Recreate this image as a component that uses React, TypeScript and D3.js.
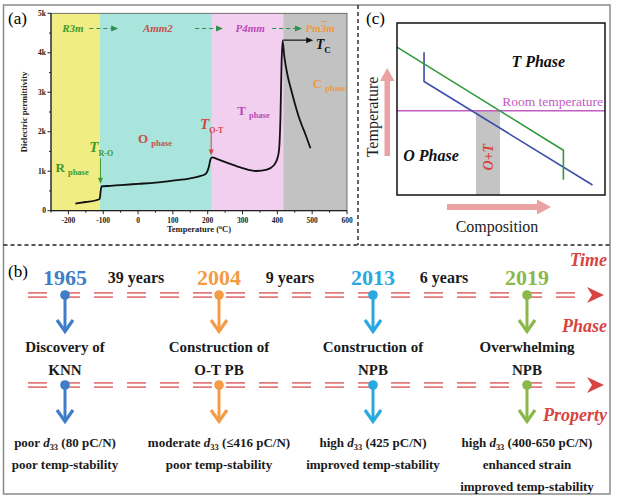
import React from "react";
import * as d3 from "d3";

// ---------- Panel (a) data ----------
const tempC = [-180, -150, -120, -110, -108, -105, -80, -50, 0, 50, 100, 150, 180, 195, 203, 208, 212, 230, 260, 300, 340, 370, 390, 400, 405, 409, 412, 415, 420, 430, 440, 450, 460, 470, 480, 495];
const permittivity = [180, 220, 265, 300, 450, 615, 630, 650, 680, 710, 760, 820, 880, 940, 1100, 1300, 1350, 1300, 1200, 1080, 1005, 1040, 1150, 1320, 1550, 2400, 3700, 4300, 3900, 3400, 3050, 2720, 2420, 2170, 1950, 1580];
const phaseBounds = [-250, -110, 212, 417, 600];
const phaseFills = ["#f1ed85", "#aae5dd", "#f2cfee", "#c2c2c2"];
const xTicks = [-200, -100, 0, 100, 200, 300, 400, 500, 600];
const xMinor = [-250, -150, -50, 50, 150, 250, 350, 450, 550];
const yTicks = [0, 1000, 2000, 3000, 4000, 5000];
const yTickLabels = ["0", "1k", "2k", "3k", "4k", "5k"];
const yMinor = [500, 1500, 2500, 3500, 4500];
const spaceGroups = ["R3m", "Amm2", "P4mm", "Pm3m"];
const spaceGroupTemps = [-187, 57, 322, 523];
const spaceGroupColors = ["#3d9a2c", "#c8504e", "#b94bb8", "#f09a3e"];
const transitionArrows = [[-140, -57], [164, 244], [385, 471]];

// ---------- Panel (c) data (normalised composition / temperature) ----------
const greenLine: [number, number][] = [[0, 0.86], [0.8, 0.26], [0.8, 0.088]];
const blueLine: [number, number][] = [[0.13, 0.83], [0.13, 0.66], [0.94, 0.058]];
const roomTemp = 0.49;
const otRange = [0.38, 0.495];

// ---------- Panel (b) data ----------
const years = ["1965", "2004", "2013", "2019"];
const yearGaps = ["39 years", "9 years", "6 years"];
const eventColors = ["#3f7dc8", "#f39c45", "#29a9df", "#8cb84b"];
const phaseText = [["Discovery of", "KNN"], ["Construction of", "O-T PB"], ["Construction of", "NPB"], ["Overwhelming", "NPB"]];
const propertyText = [
  ["poor d33 (80 pC/N)", "poor temp-stability"],
  ["moderate d33 (≤416 pC/N)", "poor temp-stability"],
  ["high d33 (425 pC/N)", "improved temp-stability"],
  ["high d33 (400-650 pC/N)", "enhanced strain", "improved temp-stability"],
];
const rowLabels = ["Time", "Phase", "Property"];

const SERIF = "Liberation Serif, Times New Roman, serif";
const RED = "#d8443f";
const TL = "#e07b7b";

function D33Text({ s, x, y, size, color }: { s: string; x: number; y: number; size: number; color: string }) {
  const idx = s.indexOf("d33");
  if (idx < 0) {
    return (
      <text x={x} y={y} textAnchor="middle" fontFamily={SERIF} fontWeight="bold" fontSize={size} fill={color}>{s}</text>
    );
  }
  return (
    <text x={x} y={y} textAnchor="middle" fontFamily={SERIF} fontWeight="bold" fontSize={size} fill={color}>
      {s.slice(0, idx)}
      <tspan fontStyle="italic">d</tspan>
      <tspan fontSize={size * 0.65} dy={3}>33</tspan>
      <tspan dy={-3}>{s.slice(idx + 3)}</tspan>
    </text>
  );
}

function DownArrow({ x, y0, tip, color }: { x: number; y0: number; tip: number; color: string }) {
  return (
    <g>
      <line x1={x} x2={x} y1={y0} y2={tip - 1.5} stroke={color} strokeWidth={3} />
      <path d={`M${x - 8},${tip - 13} L${x},${tip - 1.5} L${x + 8},${tip - 13}`} fill="none" stroke={color} strokeWidth={3.2} strokeLinejoin="miter" />
      <circle cx={x} cy={y0} r={4.8} fill={color} />
    </g>
  );
}

function Timeline({ y, x0, x1 }: { y: number; x0: number; x1: number }) {
  return (
    <g>
      <line x1={x0} x2={x1} y1={y - 2.2} y2={y - 2.2} stroke={TL} strokeWidth={1.8} strokeDasharray="19 14" />
      <line x1={x0} x2={x1} y1={y + 2.2} y2={y + 2.2} stroke={TL} strokeWidth={1.8} strokeDasharray="19 14" />
      <path d={`M${x1 + 2},${y - 8} L${x1 + 19},${y} L${x1 + 2},${y + 8} L${x1 + 7},${y} Z`} fill={RED} />
    </g>
  );
}

function PhaseLabel({ x, y, main, color }: { x: number; y: number; main: string; color: string }) {
  return (
    <text x={x} y={y} fontFamily={SERIF} fontWeight="bold" fontSize={13} fill={color}>
      {main}
      <tspan fontSize={8.5} dx={3} dy={3}>phase</tspan>
    </text>
  );
}

export default function App() {
  // Panel (a)
  const xa = d3.scaleLinear().domain([-250, 600]).range([51, 347]);
  const ya = d3.scaleLinear().domain([0, 5000]).range([210.7, 13.3]);
  const curve = d3
    .line<number>()
    .x((_, i) => xa(tempC[i]))
    .y((d) => ya(d))
    .curve(d3.curveMonotoneX)(permittivity) as string;

  // Panel (c)
  const xc = d3.scaleLinear().domain([0, 1]).range([397, 605]);
  const yc = d3.scaleLinear().domain([0, 1]).range([195, 23]);
  const lineC = d3.line<[number, number]>().x((d) => xc(d[0])).y((d) => yc(d[1]));

  // Panel (b)
  const xb = d3.scalePoint<string>().domain(years).range([65, 527]);
  const TL1 = 295;
  const TL2 = 385;

  const arrowGreen = "#2f8f4f";
  const tcY = ya(4320);

  return (
    <div style={{ position: "absolute", left: 0, top: 0 }}>
      <svg width={617} height={500} style={{ display: "block", background: "#fff" }}>
        {/* outer frame */}
        <rect x={3.5} y={5} width={606.5} height={489} fill="none" stroke="#8a8a8a" strokeWidth={1.5} />
        <line x1={358} x2={358} y1={5} y2={245} stroke="#222" strokeWidth={1.4} strokeDasharray="4 3" />
        <line x1={3.5} x2={610} y1={245} y2={245} stroke="#222" strokeWidth={1.4} strokeDasharray="4 3" />

        {/* ===== Panel (a) ===== */}
        <text x={8} y={24} fontFamily={SERIF} fontSize={17}>(a)</text>
        {phaseFills.map((f, i) => (
          <rect key={i} x={xa(phaseBounds[i])} y={ya(5000)} width={xa(phaseBounds[i + 1]) - xa(phaseBounds[i])} height={ya(0) - ya(5000)} fill={f} />
        ))}
        <rect x={xa(-250)} y={ya(5000)} width={xa(600) - xa(-250)} height={ya(0) - ya(5000)} fill="none" stroke="#555" strokeWidth={0.8} />
        <line x1={xa(-250)} x2={xa(600)} y1={ya(0)} y2={ya(0)} stroke="#222" strokeWidth={1.2} />
        <line x1={xa(-250)} x2={xa(-250)} y1={ya(0)} y2={ya(5000)} stroke="#222" strokeWidth={1.2} />
        {xTicks.map((t) => (
          <g key={t}>
            <line x1={xa(t)} x2={xa(t)} y1={ya(0)} y2={ya(0) + 3.5} stroke="#222" />
            <text x={xa(t)} y={ya(0) + 12} textAnchor="middle" fontFamily={SERIF} fontWeight="bold" fontSize={7.5} fill="#222">{t}</text>
          </g>
        ))}
        {xMinor.map((t) => (
          <line key={t} x1={xa(t)} x2={xa(t)} y1={ya(0)} y2={ya(0) + 2} stroke="#222" />
        ))}
        {yTicks.map((t, i) => (
          <g key={t}>
            <line x1={xa(-250)} x2={xa(-250) - 3.5} y1={ya(t)} y2={ya(t)} stroke="#222" />
            <text x={xa(-250) - 5} y={ya(t) + 2.5} textAnchor="end" fontFamily={SERIF} fontWeight="bold" fontSize={7.5} fill="#222">{yTickLabels[i]}</text>
          </g>
        ))}
        {yMinor.map((t) => (
          <line key={t} x1={xa(-250)} x2={xa(-250) - 2} y1={ya(t)} y2={ya(t)} stroke="#222" />
        ))}
        <text x={xa(175)} y={232} textAnchor="middle" fontFamily={SERIF} fontWeight="bold" fontSize={8.5} fill="#222">Temperature (<tspan dy={-3} fontSize={6}>o</tspan><tspan dy={3}>C)</tspan></text>
        <text transform={`translate(27,${ya(2500)}) rotate(-90)`} textAnchor="middle" fontFamily={SERIF} fontWeight="bold" fontSize={8.5} fill="#222">Dielectric permittivity</text>

        {/* space groups */}
        {spaceGroups.map((g, i) => (
          <text key={g} x={xa(spaceGroupTemps[i])} y={32} textAnchor="middle" fontFamily={SERIF} fontWeight="bold" fontStyle="italic" fontSize={11} fill={spaceGroupColors[i]}>
            {g === "Pm3m" ? (<>Pm<tspan textDecoration="overline">3</tspan>m</>) : g}
          </text>
        ))}
        {transitionArrows.map(([a, b], i) => (
          <g key={i}>
            <line x1={xa(a)} x2={xa(b) - 6} y1={28.5} y2={28.5} stroke={arrowGreen} strokeWidth={1.2} strokeDasharray="4 3" />
            <path d={`M${xa(b)},28.5 L${xa(b) - 7},25.5 L${xa(b) - 7},31.5 Z`} fill={arrowGreen} />
          </g>
        ))}

        {/* curve */}
        <path d={curve} fill="none" stroke="#111" strokeWidth={1.8} />

        {/* annotations */}
        <line x1={xa(415)} x2={xa(503) - 5} y1={tcY} y2={tcY} stroke="#111" strokeWidth={1.2} />
        <path d={`M${xa(503)},${tcY} L${xa(503) - 7},${tcY - 3} L${xa(503) - 7},${tcY + 3} Z`} fill="#111" />
        <text x={xa(510)} y={tcY + 9} fontFamily={SERIF} fontWeight="bold" fontStyle="italic" fontSize={14} fill="#111">T<tspan fontStyle="normal" fontSize={9} dy={4}>C</tspan></text>

        <PhaseLabel x={xa(502)} y={ya(3100)} main="C" color="#f09a3e" />
        <PhaseLabel x={xa(285)} y={ya(2420)} main="T" color="#b94bb8" />
        <PhaseLabel x={xa(0)} y={ya(1720)} main="O" color="#c8504e" />
        <PhaseLabel x={xa(-237)} y={ya(980)} main="R" color="#3d9a2c" />

        <text x={xa(178)} y={ya(2080)} fontFamily={SERIF} fontWeight="bold" fontStyle="italic" fontSize={15} fill="#d8443f">T<tspan fontStyle="normal" fontSize={8} dy={4}>O-T</tspan></text>
        <line x1={xa(210)} x2={xa(210)} y1={ya(2030)} y2={ya(1400) - 5} stroke="#d8443f" strokeWidth={1} />
        <path d={`M${xa(210)},${ya(1400)} L${xa(210) - 2.5},${ya(1400) - 6} L${xa(210) + 2.5},${ya(1400) - 6} Z`} fill="#d8443f" />

        <text x={xa(-140)} y={ya(1480)} fontFamily={SERIF} fontWeight="bold" fontStyle="italic" fontSize={15} fill="#3d9a2c">T<tspan fontStyle="normal" fontSize={8} dy={4}>R-O</tspan></text>
        <line x1={xa(-108)} x2={xa(-108)} y1={ya(1330)} y2={ya(680) - 5} stroke="#3d9a2c" strokeWidth={1} />
        <path d={`M${xa(-108)},${ya(680)} L${xa(-108) - 2.5},${ya(680) - 6} L${xa(-108) + 2.5},${ya(680) - 6} Z`} fill="#3d9a2c" />

        {/* ===== Panel (c) ===== */}
        <text x={366} y={24} fontFamily={SERIF} fontSize={17}>(c)</text>
        <rect x={xc(otRange[0])} y={yc(roomTemp)} width={xc(otRange[1]) - xc(otRange[0])} height={yc(0) - yc(roomTemp)} fill="#c4c4c4" />
        <line x1={xc(0)} x2={xc(1)} y1={yc(roomTemp)} y2={yc(roomTemp)} stroke="#c25cc4" strokeWidth={1.5} />
        <path d={lineC(blueLine) as string} fill="none" stroke="#3b4fa8" strokeWidth={1.6} />
        <path d={lineC(greenLine) as string} fill="none" stroke="#2f9a3a" strokeWidth={1.6} />
        <rect x={xc(0)} y={yc(1)} width={xc(1) - xc(0)} height={yc(0) - yc(1)} fill="none" stroke="#111" strokeWidth={1.5} />
        <text x={xc(1) - 2} y={yc(roomTemp) - 5} textAnchor="end" fontFamily={SERIF} fontSize={13.5} fill="#c25cc4">Room temperature</text>
        <text x={xc(0.55)} y={yc(0.745)} fontFamily={SERIF} fontWeight="bold" fontStyle="italic" fontSize={16} fill="#111">T Phase</text>
        <text x={xc(0.03)} y={yc(0.2)} fontFamily={SERIF} fontWeight="bold" fontStyle="italic" fontSize={16} fill="#111">O Phase</text>
        <text transform={`translate(${xc((otRange[0] + otRange[1]) / 2) + 5},${yc(0.22)}) rotate(-90)`} textAnchor="middle" fontFamily={SERIF} fontWeight="bold" fontStyle="italic" fontSize={14} fill="#d8443f">O+T</text>
        {/* temperature arrow */}
        <rect x={384.5} y={80} width={5.5} height={76} fill="#eaa2a2" />
        <path d="M380,81 L387.2,68 L394.5,81 Z" fill="#eaa2a2" />
        <text transform="translate(378,117) rotate(-90)" textAnchor="middle" fontFamily={SERIF} fontSize={16} fill="#222">Temperature</text>
        {/* composition arrow */}
        <rect x={447} y={204} width={91} height={6} fill="#eaa2a2" />
        <path d="M537,199.5 L551,207 L537,214.5 Z" fill="#eaa2a2" />
        <text x={497} y={232} textAnchor="middle" fontFamily={SERIF} fontSize={16} fill="#222">Composition</text>

        {/* ===== Panel (b) ===== */}
        <text x={8} y={277} fontFamily={SERIF} fontSize={17}>(b)</text>
        <Timeline y={TL1} x0={28} x1={585} />
        <Timeline y={TL2} x0={28} x1={585} />
        {rowLabels.map((r, i) => (
          <text key={r} x={607} y={[266, 332, 421][i]} textAnchor="end" fontFamily={SERIF} fontWeight="bold" fontStyle="italic" fontSize={18} fill={RED}>{r}</text>
        ))}
        {years.map((yr, i) => {
          const x = xb(yr) as number;
          return (
            <g key={yr}>
              <text x={x} y={285} textAnchor="middle" fontFamily={SERIF} fontWeight="bold" fontSize={22} fill={eventColors[i]}>{yr}</text>
              <DownArrow x={x} y0={TL1} tip={333} color={eventColors[i]} />
              <DownArrow x={x} y0={TL2} tip={423} color={eventColors[i]} />
              {phaseText[i].map((s, j) => (
                <text key={j} x={x} y={352 + j * 23} textAnchor="middle" fontFamily={SERIF} fontWeight="bold" fontSize={15} fill="#1a1a1a">{s}</text>
              ))}
              {propertyText[i].map((s, j) => (
                <D33Text key={j} s={s} x={x} y={447 + j * 22} size={13} color="#1a1a1a" />
              ))}
            </g>
          );
        })}
        {yearGaps.map((g, i) => {
          const a = xb(years[i]) as number;
          const b = xb(years[i + 1]) as number;
          return (
            <text key={g} x={(a + b) / 2 - 6} y={283} textAnchor="middle" fontFamily={SERIF} fontWeight="bold" fontSize={16} fill="#1a1a1a">{g}</text>
          );
        })}
      </svg>
    </div>
  );
}
